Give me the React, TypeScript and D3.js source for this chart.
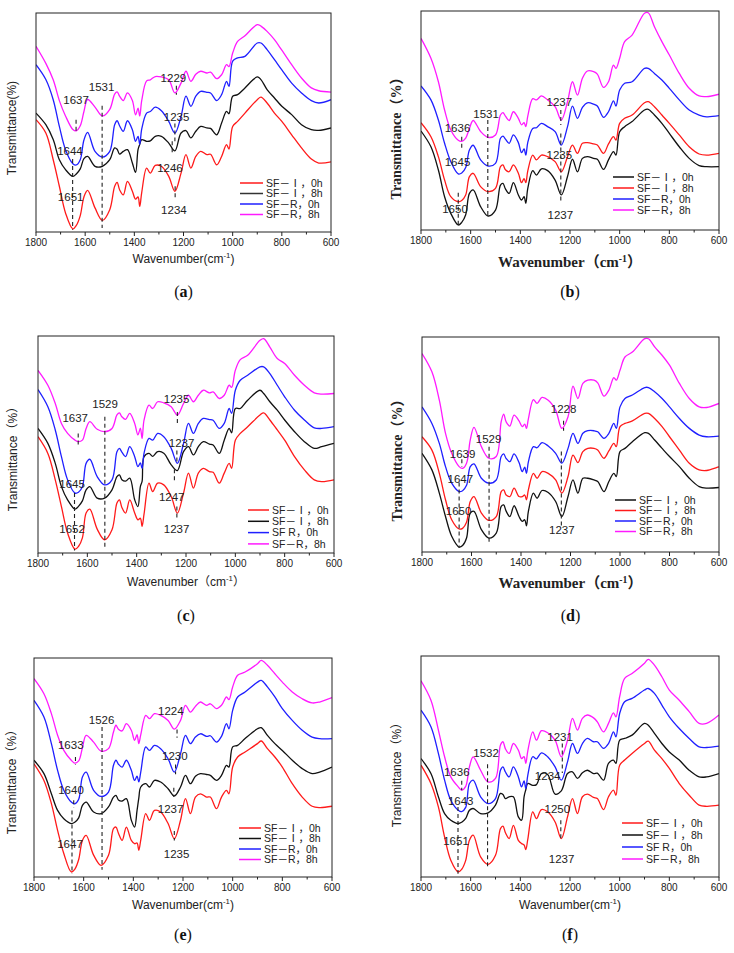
import React from "react";
import * as d3 from "d3";

const XS = [1800,1760,1730,1705,1680,1650,1636,1620,1605,1590,1560,1530,1500,1480,1470,1460,1445,1428,1408,1395,1385,1378,1370,1350,1335,1315,1290,1260,1235,1210,1190,1170,1150,1130,1105,1090,1065,1045,1025,1015,1000,980,950,900,885,860,830,800,760,720,680,650,600];
const X_TICKS = [1800,1600,1400,1200,1000,800,600];
const X_MINOR = [1700,1500,1300,1100,900,700];

// Panel (a)
const A_MAGENTA = [84.8,77,69.5,60,53,46.8,46.2,48.5,55,60.5,57,53,56,63,64,62,60,63.5,60,53.5,56.5,53,60,69,69.5,71,70.8,69.5,63.5,68,73.4,68.8,72,73.4,72.6,73,70,71.8,76.4,75.5,81.7,87,89.6,94.7,94,91.6,87.8,83,76.4,70.3,65.8,64.5,63.9];
const A_BLUE = [76.4,69.6,60.4,48.2,37.6,31.2,30.6,33,42,45.5,36.8,34.2,36.8,49,50.8,48.5,46,50.8,46.7,41.4,43.7,40,47,54.3,55,57,55.4,50.5,45.2,52.8,62,57.4,62,64.2,63.8,63.5,60,62.7,68.8,66.5,78,79.5,80.2,86.3,86.3,83.3,78.7,74,68,63.5,60,58.9,60.4];
const A_BLACK = [54.3,49,42.2,33,28.5,25.4,26.5,28.8,33.5,34.5,30,30,33,38.4,37.8,35.6,36.8,37.6,31.5,27.2,37.6,40,42.2,41.4,41.6,43.7,43.7,40.6,37,45.2,46.3,43,46,48.2,47.5,47.3,44.4,49.8,55.1,54,62,62.7,65.8,70.8,69.6,65,61.2,57.4,53.6,49,46.7,46.4,47.5];
const A_RED = [51.3,45.2,33,20.9,8.7,1.4,3,7.5,16,19,11,5.3,10.2,20.9,22.7,19.3,17,23.1,18.6,15,16,11.7,18,29.2,26.9,30.4,30,25.4,18.6,26.9,35.3,29.2,34.5,36.8,35.3,35.5,30.7,34.5,39.9,37.9,48.2,50.5,54.3,60.4,61.6,58.9,54.3,50.5,44.4,38.4,33.3,31.5,32];

// Panel (b)
const B_MAGENTA = [87.5,78.4,67.7,54.8,45.7,41,40.5,42,46.4,50,45,42.3,43.4,52.5,53.6,52,50,54,51,48,49,47.2,52,60,59.4,61.2,59.4,56.3,50.2,58.6,67.7,61.6,69.3,72.6,72.3,71.2,65.1,67.7,75.3,73.8,78.4,86,89,99,99.2,92.8,86,79.9,71.5,64.7,61.2,60.9,62];
const B_BLUE = [65.8,59.4,50.2,39.6,31.2,25.6,26,28.5,36.5,38.7,32,29.2,30.4,41.9,42.9,41.5,39.6,43.4,39.9,35.3,37,34.2,40,46.4,46.7,48.7,47.2,44.9,38.8,47.2,56.6,51,56,58.1,57.5,56.6,51.4,54,59,56.6,63.9,67,67.7,73.8,73.8,71.5,68.5,64.7,59.4,54.8,52.5,51.7,52.2];
const B_RED = [49,42.6,33.5,22.8,15.2,12.9,13.5,16,24.4,25.9,19.8,17.5,19,28.9,29.7,27.5,26.6,29.7,25.9,21.6,23.5,21.6,27,34.2,32,34.2,33.5,31.2,26.6,33.5,38.8,35,39.6,39.9,39.3,38.8,35,39.3,42.6,41.1,48.7,51,52.5,58.1,58.6,56.3,52.5,48.7,43.4,38,34.7,34.2,35];
const B_BLACK = [45.2,38,27.4,15.2,7.6,2.3,3.5,7,16.7,18.3,10.7,6.4,9.1,20.5,21.3,18.8,16.7,21.6,16,13.7,15.2,12.2,19,27.1,25.1,27.9,27.1,22.8,16,24.4,32.3,26.6,32.7,33.5,32.7,32.3,27.7,32,35.8,34.2,44.9,47.2,49.5,54.8,55.1,52.5,48.7,44.1,38,32.7,29.4,28.9,28.9];

// Panel (c)
const C_MAGENTA = [84.2,77.3,68.9,59.7,55.1,52,51.3,52,57.4,60.5,57,55.9,57.4,63.6,64.6,62.8,61.6,64.3,59.7,54.4,57.5,52.8,61.3,68.1,66.6,69.7,69.2,67.4,63.6,68.9,72.7,69.7,72.7,75,73.8,74.2,71.2,72.7,77.3,76.3,84.2,89.1,91.1,98,98.8,94.9,89.6,87.3,81.9,77.3,73.8,73.2,73.5];
const C_BLUE = [75.3,67.4,56.7,44.4,33.7,27.6,28,30.5,41.3,43.2,35.2,31.4,33.7,46.7,48.2,46.5,44.4,49,44.4,39.8,41.5,39,46,52.8,52,55.1,53.6,48.2,41.3,50.5,59.7,55.1,59.7,62,61.5,61.2,57.4,59.7,66.6,64.3,75,79.6,81.9,85.8,85.8,82.7,77.3,72,65.8,61.3,57.7,57.4,58.2];
const C_BLACK = [57.4,50.5,41.3,30.6,24.5,20.2,21.5,24,29.1,30.6,25.3,25.3,29.1,35.2,36,33.8,33.1,34.5,24.5,21.4,30.6,33,44.4,45.9,44.5,46.7,46,40.6,38,46.7,49,45.2,49,51.3,50.2,49.8,45.9,52,57.4,55.4,66.6,66.6,70.4,75,73.5,69.7,65.8,61.3,55.9,51.3,48.2,49,50.5];
const C_RED = [53.6,45.9,33.7,21.4,9.2,1.8,3,7,18.4,20.2,11,6.1,10.7,23,24.5,21,18.4,24.5,18.4,15.3,16,12.3,18,32.2,28.3,32.2,31.4,26,18.4,27.6,36.8,29.9,36.8,39,37.5,37.2,32.2,36.8,41.3,39,52,55.1,58.2,63.6,64.6,61.3,56.7,52,44.4,38.3,33.7,32.9,33.7];

// Panel (d)
const D_MAGENTA = [92.3,83.8,70.6,55.2,45.9,39.7,38.9,41.3,52.1,58,49,43.6,44.4,60.6,64.1,60.5,58.6,63.7,61,58.3,59.5,57.5,62,70.9,69.1,71.9,70.6,66,57.5,62.9,77.1,71.4,78.4,79.9,79.9,78.7,72.5,75.3,81.1,79.9,84.5,90.7,93,99.2,99.2,95.4,91.5,86.9,78.4,71.4,67.5,67.2,69.1];
const D_BLUE = [67.5,59.8,50.5,39.7,32,28.1,28.5,31,39.7,41,34.3,32,33.5,44.4,45.6,43.5,42,45.6,41.6,37.4,39.5,36.6,42,49,48.5,50.9,49.3,45.9,41.3,48.2,55.2,50.5,55.2,56.4,56.4,55.9,52.9,55.2,59.8,57.5,67.5,71.4,73,76.5,76.5,74.5,71.4,67.5,62.1,57.5,54.4,53.6,53.9];
const D_RED = [53.6,47.4,36.6,24.3,15,10.7,11,13.8,23.5,25.8,18.1,14.7,16.5,28.1,28.9,26.5,25.8,29.7,25.8,25.8,26.5,24.3,29,36.6,34.3,37.4,36.6,33.5,27.4,35.1,45.1,41.6,46.7,48.2,48.2,47.4,43.6,47,50.5,49,58.3,59.8,61,64.5,64.5,62.1,58.3,53.6,47.4,41.3,38.2,37.9,39.7];
const D_BLACK = [45.9,38.2,27.4,16.5,7.3,2.3,3,6.5,18.1,18.9,10.4,6.5,8.8,21.2,21.9,19,16.5,21.5,16.5,14.2,15,12.2,19,27.4,25,28.6,27.7,23.5,16.5,25.8,33.5,27.4,34.3,34.3,33.5,32.8,28.1,32.8,36.6,35.1,46.7,48.2,51.3,55.5,55.2,52.1,48.2,44.4,39.7,34.3,30.4,29.7,30];

// Panel (e)
const E_MAGENTA = [90.6,83.7,74.6,64.7,57.8,53.3,52,53,59,64.7,61.6,57.5,58.6,66.2,69.3,67.5,66.7,70,67,62.4,65,60.9,65,73.8,72.3,74.6,73.8,71.5,67.5,71.5,78.4,75.3,77.9,79.9,78.4,79.1,76.9,78.4,82.2,81,86.8,92.1,93.6,97.4,98.9,96.7,92.8,89,84.5,81.4,79.5,79.9,81.9];
const E_BLUE = [80.7,73.1,60.9,48.7,39.6,34.2,33.4,35.5,45.7,47.9,39.6,36.8,38.8,51,53.3,51.5,50.2,53.3,48.7,44.1,46,43.4,48,59.4,57.8,60.1,58.6,54,47.9,56.3,64.7,60.9,63.9,65.4,64.2,64.5,61.6,64.2,70,67.7,76.1,82.2,84.5,89,89.8,86.8,82.2,76.9,71.5,67,63.9,63.2,63.2];
const E_BLACK = [53.3,47.2,38,30.4,26.6,24.4,25,27,32.7,34.2,29.7,28.9,32,36.5,37.3,35.2,34.7,35.8,25.9,22.8,30.4,36,41.1,42.6,41.1,44.1,43.4,40.3,37,41.1,46.4,42.6,46,47.2,46.8,46.4,44.1,46.4,51,50.2,59.4,60.1,63.2,67.7,68.2,64.7,60.9,57.8,53.3,49.5,47.2,47.9,50.2];
const E_RED = [51.7,44.1,33.5,21.3,10.7,2.3,3.5,8,16.7,19,10,5.3,9.9,22.1,22.8,20,16.7,22.8,16.7,15.2,15.5,12.2,17,28.9,25.9,30.4,29.7,24.4,17.5,25.9,35.8,28.9,36.5,38,36.5,36.5,31.2,36.5,39.6,38,50.2,54.8,57.1,60.9,62.1,58.6,54.8,50.2,42.6,36.5,32.3,31.7,32.3];

// Panel (f)
const F_MAGENTA = [88.8,80,66.5,54.4,45.3,40.8,39.3,41,49.8,54.4,48.3,43,44.6,59.7,61.2,58,55.9,60.4,57.4,53.6,54.5,51.4,57,65.7,61.9,66.2,65.3,61.9,54.4,61.9,71.8,66.5,71.8,73.3,72,70.2,65.7,69.5,74.3,72.5,81.6,89.9,92.1,96.7,98.5,95.9,90.6,84.6,80,74.8,69.5,69.5,73.3];
const F_BLUE = [75.5,68,55.9,43.8,34.7,30.2,29.6,31.5,42.3,43.8,36.3,33.2,35.5,48.3,49.8,47.5,45.3,49.8,45.3,40.8,43.5,40,46,54.4,53.5,56.2,54.4,49.8,43.8,52.1,60.4,55.9,60.4,62.7,61.2,61.2,58.2,60.4,65.7,63.4,74,79.3,80.8,84.6,85.3,83.1,77.8,72.5,67.2,62.7,58.9,58.6,59.2];
const F_BLACK = [53.6,46.8,36.3,28.7,25.7,24.2,24.8,26.5,30.2,31,28.7,29,32.5,37.8,37.3,35.5,36.3,36.3,27.2,25.7,36.3,39.5,42.3,41.5,41.8,46.8,46.4,37.5,39,46.8,47.6,44.6,47.2,48.3,46.8,47,43.8,51.4,52.9,51.4,61.9,62.7,64.2,69.5,68.7,65,60.4,56.6,52.9,48.3,45.3,45.3,46.8];
const F_RED = [50.6,42.3,31.7,18.1,7.6,2.3,3.5,7.5,16.6,18.9,9.1,5.7,9.8,21.9,23,20,17.4,23.4,16.6,15.1,14.5,12.4,17,29.5,26.4,30.5,29.5,24.9,17.4,27.2,35.5,28.7,36.3,37.5,36,35.5,30.5,36.3,39.3,37,50.6,52.9,55.9,60.4,61.5,57.4,53.6,49.1,42.3,37,32.5,32,32.5];

// Peak labels: [wavenumber of text centre, text, transmittance of text centre]
const A_LABELS: [number, string, number][] = [[1637,"1637",60.1],[1533,"1531",66.2],[1241,"1229",70.3],[1228,"1235",52.4],[1662,"1644",36.8],[1255,"1246",29.2],[1659,"1651",16],[1239,"1234",10.2]];
const B_LABELS: [number, string, number][] = [[1653,"1636",46.7],[1538,"1531",52.8],[1243,"1237",58.4],[1653,"1645",30.9],[1243,"1235",34.2],[1663,"1650",9.6],[1239,"1237",6.8]];
const C_LABELS: [number, string, number][] = [[1649,"1637",62],[1528,"1529",68.9],[1238,"1235",70.9],[1218,"1237",50.5],[1662,"1645",31.7],[1258,"1247",26],[1662,"1652",11],[1238,"1237",11]];
const D_LABELS: [number, string, number][] = [[1636,"1639",45.6],[1531,"1529",52.5],[1228,"1228",66.3],[1645,"1647",33.8],[1652,"1650",19.2],[1235,"1237",10.4]];
const E_LABELS: [number, string, number][] = [[1652,"1633",60.1],[1528,"1526",71.8],[1249,"1224",75.8],[1233,"1230",55.3],[1651,"1640",39.6],[1250,"1237",30.9],[1655,"1647",15.2],[1226,"1235",10.7]];
const F_LABELS: [number, string, number][] = [[1656,"1636",47.3],[1538,"1532",56.2],[1240,"1231",63.4],[1290,"1234",45.8],[1640,"1643",34.3],[1251,"1250",30.7],[1659,"1651",16.2],[1234,"1237",8.3]];

// Dashed marker lines: [wavenumber, top, bottom]
const A_DASHES: [number, number, number][] = [[1637,51.3,45.5],[1531,57.7,1.8],[1229,66.8,62.7],[1235,49.5,41.4],[1651,33.3,1],[1246,41.4,36.4],[1234,20.9,14.8]];
const B_DASHES: [number, number, number][] = [[1636,42.6,37.3],[1531,50.2,6.1],[1237,54.8,47.9],[1237,44.1,12.2],[1650,17,1.5]];
const C_DASHES: [number, number, number][] = [[1637,55.1,49],[1529,62.8,2.8],[1235,65,59],[1237,47.2,41.3],[1652,27.6,1.2],[1247,38.6,32.5],[1237,21.4,16]];
const D_DASHES: [number, number, number][] = [[1639,43.1,39.7],[1529,49,3.9],[1228,61,56.4],[1650,32.3,1.9],[1237,46.7,12.2]];
const E_DASHES: [number, number, number][] = [[1633,54.8,51.4],[1526,68.5,3.3],[1224,67.3,63.6],[1230,51.4,46.9],[1640,35,31.7],[1647,30.4,1.5],[1237,40.8,36.5],[1235,21,16.7]];
const F_DASHES: [number, number, number][] = [[1636,43.5,39.3],[1532,51,4.5],[1231,60.4,47.1],[1651,31.7,1.5],[1237,25.7,16.6]];

const LEG_IA = ["SF－Ⅰ，0h", "SF－Ⅰ，8h", "SF－R，0h", "SF－R，8h"];

const RED = "#ff1a1a";
const BLACK = "#111111";
const BLUE = "#1f1fff";
const MAGENTA = "#ff1aff";

const SANS = "'Liberation Sans', Arial, 'Noto Sans CJK SC', sans-serif";
const SERIF = "'Liberation Serif', 'Times New Roman', 'Noto Sans CJK SC', serif";

type Panel = {
  tag: string;
  box: { l: number; r: number; t: number; b: number };
  series: { color: string; values: number[] }[];
  legend: { color: string; text: string }[];
  leg: { x1: number; x2: number; y: number; gap: number };
  labels: [number, string, number][];
  dashes: [number, number, number][];
  serifTitles: boolean;
  xTitleParen: boolean;
  yTitle: string;
  yTitlePos: [number, number];
  xTitleY: number;
  tagY: number;
};

const PANELS: Panel[] = [
  {
    tag: "a", box: { l: 36, r: 331, t: 13, b: 232 },
    series: [{ color: RED, values: A_RED }, { color: BLACK, values: A_BLACK }, { color: BLUE, values: A_BLUE }, { color: MAGENTA, values: A_MAGENTA }],
    legend: [{ color: RED, text: LEG_IA[0] }, { color: "#333", text: LEG_IA[1] }, { color: BLUE, text: LEG_IA[2] }, { color: MAGENTA, text: LEG_IA[3] }],
    leg: { x1: 240, x2: 263, y: 183, gap: 10.5 },
    labels: A_LABELS, dashes: A_DASHES, serifTitles: false, xTitleParen: false,
    yTitle: "Transmittance(%)", yTitlePos: [12, 128], xTitleY: 263, tagY: 297,
  },
  {
    tag: "b", box: { l: 421, r: 719, t: 11, b: 230 },
    series: [{ color: BLACK, values: B_BLACK }, { color: RED, values: B_RED }, { color: BLUE, values: B_BLUE }, { color: MAGENTA, values: B_MAGENTA }],
    legend: [{ color: BLACK, text: LEG_IA[0] }, { color: RED, text: LEG_IA[1] }, { color: BLUE, text: LEG_IA[2] }, { color: MAGENTA, text: LEG_IA[3] }],
    leg: { x1: 613, x2: 634, y: 177, gap: 11 },
    labels: B_LABELS, dashes: B_DASHES, serifTitles: true, xTitleParen: true,
    yTitle: "Transmittance（%）", yTitlePos: [396, 135], xTitleY: 267, tagY: 297,
  },
  {
    tag: "c", box: { l: 38, r: 334, t: 336, b: 553 },
    series: [{ color: RED, values: C_RED }, { color: BLACK, values: C_BLACK }, { color: BLUE, values: C_BLUE }, { color: MAGENTA, values: C_MAGENTA }],
    legend: [{ color: RED, text: LEG_IA[0] }, { color: BLACK, text: LEG_IA[1] }, { color: BLUE, text: "SF  R，0h" }, { color: MAGENTA, text: LEG_IA[3] }],
    leg: { x1: 248, x2: 269, y: 510, gap: 11.3 },
    labels: C_LABELS, dashes: C_DASHES, serifTitles: false, xTitleParen: true,
    yTitle: "Transmittance（%）", yTitlePos: [13, 456], xTitleY: 586, tagY: 621,
  },
  {
    tag: "d", box: { l: 422, r: 719, t: 337, b: 552 },
    series: [{ color: BLACK, values: D_BLACK }, { color: RED, values: D_RED }, { color: BLUE, values: D_BLUE }, { color: MAGENTA, values: D_MAGENTA }],
    legend: [{ color: BLACK, text: LEG_IA[0] }, { color: RED, text: LEG_IA[1] }, { color: BLUE, text: LEG_IA[2] }, { color: MAGENTA, text: LEG_IA[3] }],
    leg: { x1: 615, x2: 636, y: 500, gap: 10.5 },
    labels: D_LABELS, dashes: D_DASHES, serifTitles: true, xTitleParen: true,
    yTitle: "Transmittance（%）", yTitlePos: [397, 457], xTitleY: 588, tagY: 621,
  },
  {
    tag: "e", box: { l: 34, r: 332, t: 658, b: 877 },
    series: [{ color: RED, values: E_RED }, { color: BLACK, values: E_BLACK }, { color: BLUE, values: E_BLUE }, { color: MAGENTA, values: E_MAGENTA }],
    legend: [{ color: RED, text: LEG_IA[0] }, { color: BLACK, text: LEG_IA[1] }, { color: BLUE, text: LEG_IA[2] }, { color: MAGENTA, text: LEG_IA[3] }],
    leg: { x1: 239, x2: 261, y: 828, gap: 10.5 },
    labels: E_LABELS, dashes: E_DASHES, serifTitles: false, xTitleParen: false,
    yTitle: "Transmittance（%）", yTitlePos: [12, 779], xTitleY: 909, tagY: 940,
  },
  {
    tag: "f", box: { l: 421, r: 719, t: 656, b: 877 },
    series: [{ color: RED, values: F_RED }, { color: BLACK, values: F_BLACK }, { color: BLUE, values: F_BLUE }, { color: MAGENTA, values: F_MAGENTA }],
    legend: [{ color: RED, text: LEG_IA[0] }, { color: BLACK, text: LEG_IA[1] }, { color: BLUE, text: "SF  R，0h" }, { color: MAGENTA, text: LEG_IA[3] }],
    leg: { x1: 622, x2: 643, y: 823, gap: 12 },
    labels: F_LABELS, dashes: F_DASHES, serifTitles: false, xTitleParen: false,
    yTitle: "Transmittance（%）", yTitlePos: [397, 772], xTitleY: 909, tagY: 940,
  },
];

function PanelView({ p }: { p: Panel }) {
  const { l, r, t, b } = p.box;
  const x = d3.scaleLinear().domain([1800, 600]).range([l, r]);
  const y = d3.scaleLinear().domain([0, 100]).range([b, t]);
  const line = d3
    .line<number>()
    .x((_, i) => x(XS[i]))
    .y((v) => y(v))
    .curve(d3.curveCatmullRom.alpha(0.5));
  const cx = (l + r) / 2;
  const titleFont = p.serifTitles ? SERIF : SANS;
  const titleWeight = p.serifTitles ? 700 : 400;
  const titleSize = p.serifTitles ? 15 : 12;
  const open = p.xTitleParen ? "（" : "(";
  const close = p.xTitleParen ? "）" : ")";
  const clipId = "clip-" + p.tag;
  return (
    <g>
      <defs>
        <clipPath id={clipId}>
          <rect x={l} y={t} width={r - l} height={b - t} />
        </clipPath>
      </defs>
      <g clipPath={`url(#${clipId})`}>
        {p.series.map((s, i) => (
          <path key={i} d={line(s.values) || ""} fill="none" stroke={s.color} strokeWidth={1.3} strokeLinejoin="round" />
        ))}
      </g>
      {p.dashes.map(([w, v1, v2], i) => (
        <line key={"d" + i} x1={x(w)} x2={x(w)} y1={y(v1)} y2={y(v2)} stroke="#222" strokeWidth={1.1} strokeDasharray="4,3" />
      ))}
      {p.labels.map(([w, txt, v], i) => (
        <text key={"l" + i} x={x(w)} y={y(v)} dy="0.35em" textAnchor="middle" fontFamily={SANS} fontSize={11.5} fill="#222">
          {txt}
        </text>
      ))}
      <rect x={l} y={t} width={r - l} height={b - t} fill="none" stroke="#222" strokeWidth={1} />
      {X_TICKS.map((w) => (
        <g key={"t" + w}>
          <line x1={x(w)} x2={x(w)} y1={b} y2={b + 4} stroke="#222" />
          <text x={x(w)} y={b + 14} textAnchor="middle" fontFamily={SANS} fontSize={10} fill="#222">
            {w}
          </text>
        </g>
      ))}
      {X_MINOR.map((w) => (
        <line key={"m" + w} x1={x(w)} x2={x(w)} y1={b} y2={b + 2.5} stroke="#222" />
      ))}
      {p.legend.map((e, i) => (
        <g key={"g" + i}>
          <line x1={p.leg.x1} x2={p.leg.x2} y1={p.leg.y + i * p.leg.gap} y2={p.leg.y + i * p.leg.gap} stroke={e.color} strokeWidth={1.5} />
          <text x={p.leg.x2 + 3} y={p.leg.y + i * p.leg.gap} dy="0.35em" fontFamily={SANS} fontSize={10.5} fill="#222">
            {e.text}
          </text>
        </g>
      ))}
      <text x={cx} y={p.xTitleY} textAnchor="middle" fontFamily={titleFont} fontWeight={titleWeight} fontSize={titleSize} fill="#222">
        {"Wavenumber" + open + "cm"}
        <tspan dy={-5} fontSize={titleSize * 0.65}>-1</tspan>
        <tspan dy={5}>{close}</tspan>
      </text>
      <text
        transform={`translate(${p.yTitlePos[0]},${p.yTitlePos[1]}) rotate(-90)`}
        textAnchor="middle"
        dy="0.35em"
        fontFamily={titleFont}
        fontWeight={titleWeight}
        fontSize={p.serifTitles ? 14 : 12}
        fill="#222"
      >
        {p.yTitle}
      </text>
      <text x={cx} y={p.tagY} textAnchor="middle" fontFamily={SERIF} fontSize={16} fill="#111">
        (<tspan fontWeight={700}>{p.tag}</tspan>)
      </text>
    </g>
  );
}

export default function App() {
  return (
    <svg width={734} height={953} style={{ position: "absolute", left: 0, top: 0, background: "#fff" }}>
      <rect width={734} height={953} fill="#fff" />
      {PANELS.map((p) => (
        <PanelView key={p.tag} p={p} />
      ))}
    </svg>
  );
}
